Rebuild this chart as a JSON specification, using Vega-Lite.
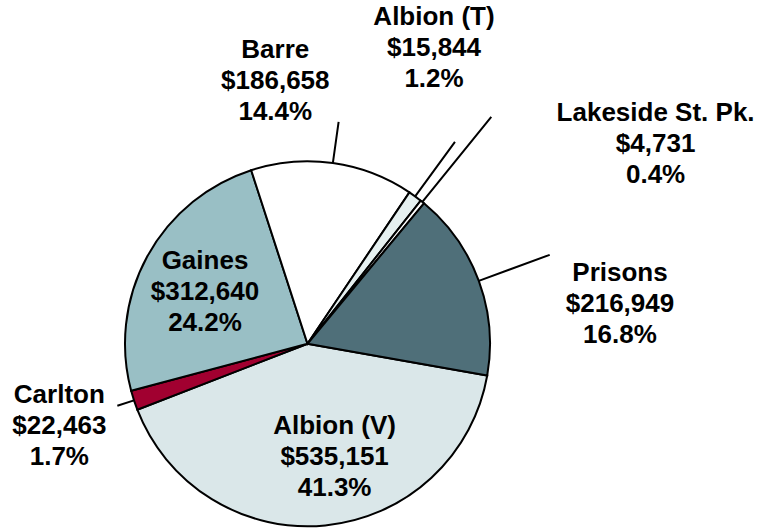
{
  "$schema": "https://vega.github.io/schema/vega-lite/v6.json",
  "autosize": "none",
  "width": 615,
  "height": 365,
  "padding": {"left": 0, "top": 161.3, "right": 147, "bottom": 4.7},
  "background": "white",
  "config": {"view": {"stroke": null}},
  "data": {"values": [
    {"k": 1, "name": "Albion (V)", "value": 535151, "pct": 41.3},
    {"k": 2, "name": "Carlton", "value": 22463, "pct": 1.7},
    {"k": 3, "name": "Gaines", "value": 312640, "pct": 24.2},
    {"k": 4, "name": "Barre", "value": 186658, "pct": 14.4},
    {"k": 5, "name": "Albion (T)", "value": 15844, "pct": 1.2},
    {"k": 6, "name": "Lakeside St. Pk.", "value": 4731, "pct": 0.4},
    {"k": 7, "name": "Prisons", "value": 216949, "pct": 16.8}
  ]},
  "encoding": {
    "theta": {"field": "value", "type": "quantitative", "stack": true, "scale": {"range": [1.7453, 8.0285]}},
    "order": {"field": "k", "type": "quantitative", "sort": "ascending"}
  },
  "layer": [
    {
      "mark": {"type": "arc", "stroke": "black", "strokeWidth": 2},
      "encoding": {
        "color": {
          "field": "name", "type": "nominal", "legend": null,
          "scale": {
            "domain": ["Albion (V)", "Carlton", "Gaines", "Barre", "Albion (T)", "Lakeside St. Pk.", "Prisons"],
            "range": ["#DAE7E9", "#A10030", "#99BFC5", "#FFFFFF", "#E6F0F0", "#FFFFFF", "#4F6F79"]
          }
        }
      }
    },
    {
      "mark": {
        "type": "arc", "filled": false, "stroke": "black", "strokeWidth": 2, "padAngle": 3,
        "radius2": 182.5,
        "radius": {"expr": "[182.5, 200, 182.5, 224, 250, 292, 258][datum.k - 1]"}
      },
      "encoding": {}
    },
    {
      "mark": {
        "type": "text", "font": "Liberation Sans", "fontWeight": "bold", "fontSize": 26, "lineHeight": 31,
        "align": "center", "baseline": "middle", "color": "black",
        "text": {"expr": "[datum.name, format(datum.value, '$,'), format(datum.pct, '.1f') + '%']"},
        "radius": {"expr": "[114, 261, 115, 265, 313.5, 374.3, 307][datum.k - 1]"},
        "dx": {"expr": "[16, 0, -1.5, -69, -58.4, 112.5, 24.3][datum.k - 1]"},
        "dy": {"expr": "[-31, -30, -28, -31, -73.6, 60, 35][datum.k - 1]"}
      },
      "encoding": {}
    }
  ]
}
